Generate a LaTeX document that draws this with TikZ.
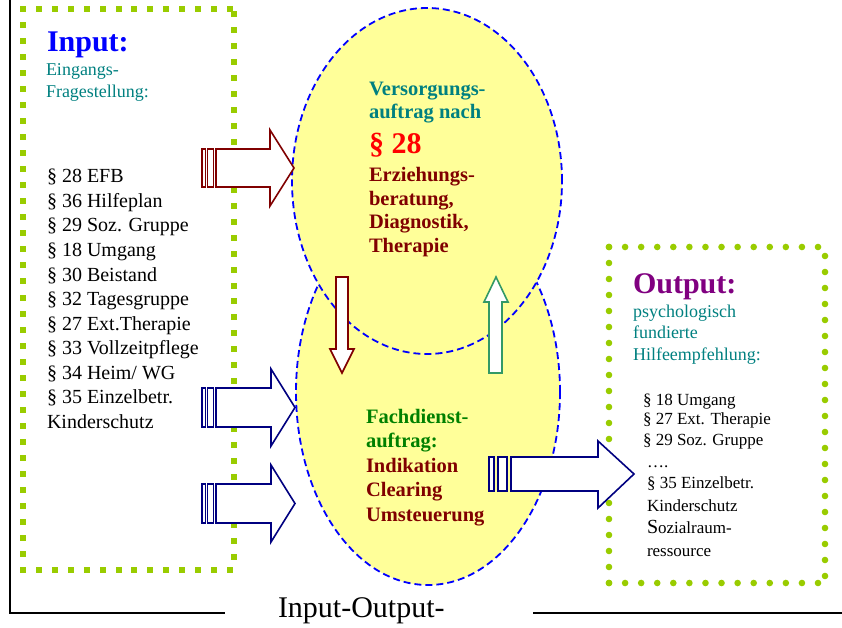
\documentclass[tikz,border=0pt]{standalone}
\usepackage{fontspec}
\setmainfont{Liberation Serif}
\usetikzlibrary{shapes.geometric}

\definecolor{dotgreen}{HTML}{99CC00}
\definecolor{tealtxt}{HTML}{008080}
\definecolor{darkred}{HTML}{800000}
\definecolor{navy}{HTML}{000080}
\definecolor{purpletxt}{HTML}{800080}
\definecolor{greentxt}{HTML}{008000}
\definecolor{upgreen}{HTML}{339966}
\definecolor{bubblefill}{HTML}{FFFF99}

\begin{document}
\begin{tikzpicture}[x=1bp,y=-1bp,
  lbl/.style={anchor=base west, inner sep=0pt, outer sep=0pt},
  fsz/.style={font=\fontsize{#1bp}{#1bp}\selectfont},
  bubble/.style={ellipse, draw=blue, fill=bubblefill, line width=1.8bp,
                 dash pattern=on 7bp off 4bp, inner sep=0pt},
  blockarrow/.style={draw=#1, fill=white, line width=1.6bp, line join=miter},
  stripe/.style={draw=#1, fill=white, line width=1.1bp},
  frame/.style={black, line width=2bp},
  sqdot/.pic={\fill[dotgreen] (-3,-3) rectangle (3,3);},
  rddot/.pic={\fill[dotgreen] (0,0) circle[radius=3.3bp];}
]
\useasboundingbox (0,0) rectangle (842,628);

% outer frame
\draw[frame] (10,0) -- (10,613) -- (225,613);
\draw[frame] (533,613) -- (842,613);

% input box: square-dotted border
\foreach \i in {0,...,13} {
  \pic at ({23+\i*(207/13)},9) {sqdot};
  \pic at ({23+\i*(207/13)},570) {sqdot};
}
\foreach \i in {0,...,35} \pic at (23,{9+\i*(561/35)}) {sqdot};
\foreach \i in {0,...,34} \pic at (234,{14+\i*(543/34)}) {sqdot};

% output box: round-dotted border
\foreach \i in {0,...,13} {
  \pic at ({609+\i*(209/13)},247) {rddot};
  \pic at ({609+\i*(209/13)},583) {rddot};
}
\foreach \i in {0,...,21} \pic at (609,{247+\i*16}) {rddot};
\foreach \i in {0,...,20} \pic at (825,{256+\i*16}) {rddot};

% the two overlapping bubbles
\node[bubble, minimum width=264bp, minimum height=386bp] (lower) at (428,392) {};
\node[bubble, minimum width=270bp, minimum height=346bp] (upper) at (427,181) {};

% input text
\node[lbl, text=blue, font=\bfseries\fontsize{30bp}{30bp}\selectfont] (intitle) at (47,52) {Input:};
\node[lbl, fsz=18, text=tealtxt] (insub1) at (46,76) {Eingangs-};
\node[lbl, fsz=18, text=tealtxt] (insub2) at (46,98) {Fragestellung:};
\foreach \t [count=\i from 0] in {{§ 28 EFB},{§ 36 Hilfeplan},{§ 29 Soz. Gruppe},
    {§ 18 Umgang},{§ 30 Beistand},{§ 32 Tagesgruppe},{§ 27 Ext.Therapie},
    {§ 33 Vollzeitpflege},{§ 34 Heim/ WG},{§ 35 Einzelbetr.},{Kinderschutz}}
  \node[lbl, fsz=20] (inlist\i) at (47,{183+\i*24.5}) {\t};

% upper bubble text
\begin{scope}[every node/.style={lbl, font=\bfseries\fontsize{20.5bp}{20.5bp}\selectfont}]
  \node[text=tealtxt] (up1) at (369,96) {Versorgungs-};
  \node[text=tealtxt] (up2) at (369,119) {auftrag nach};
  \node[text=red, font=\bfseries\fontsize{30bp}{30bp}\selectfont] (up3) at (369,154) {§ 28};
  \node[text=darkred] (up4) at (369,182) {Erziehungs-};
  \node[text=darkred] (up5) at (369,205.5) {beratung,};
  \node[text=darkred] (up6) at (369,229) {Diagnostik,};
  \node[text=darkred] (up7) at (369,252.5) {Therapie};
% lower bubble text
  \node[text=greentxt] (lo1) at (366,423) {Fachdienst-};
  \node[text=greentxt] (lo2) at (366,447.5) {auftrag:};
  \node[text=darkred] (lo3) at (366,472) {Indikation};
  \node[text=darkred] (lo4) at (366,496.5) {Clearing};
  \node[text=darkred] (lo5) at (366,521) {Umsteuerung};
\end{scope}

% output text
\node[lbl, text=purpletxt, font=\bfseries\fontsize{30bp}{30bp}\selectfont] (outtitle) at (633,293) {Output:};
\node[lbl, fsz=18, text=tealtxt] (outsub1) at (633,317) {psychologisch};
\node[lbl, fsz=18, text=tealtxt] (outsub2) at (633,338.5) {fundierte};
\node[lbl, fsz=18, text=tealtxt] (outsub3) at (633,360) {Hilfeempfehlung:};
\node[lbl, fsz=17] (outl1) at (643,405) {§ 18 Umgang};
\node[lbl, fsz=17] (outl2) at (643,424.5) {§ 27 Ext. Therapie};
\node[lbl, fsz=17] (outl3) at (643,445.5) {§ 29 Soz. Gruppe};
\node[lbl, fsz=17] (outl4) at (647,467) {….};
\node[lbl, fsz=17] (outl5) at (647,488) {§ 35 Einzelbetr.};
\node[lbl, fsz=17] (outl6) at (647,511) {Kinderschutz};
\node[lbl, fsz=17] (outl7) at (647,533) {{\fontsize{20bp}{20bp}\selectfont S}ozialraum-};
\node[lbl, fsz=17] (outl8) at (647,556) {ressource};

% title
\node[lbl, fsz=30] (title) at (278,617) {Input-Output-};

% block arrow: input -> upper bubble
\draw[stripe=darkred] (202,149) rectangle (205.5,187);
\draw[stripe=darkred] (207.5,149) rectangle (213.5,187);
\draw[blockarrow=darkred] (216,149) -- (270,149) -- (270,130) -- (294,168)
  -- (270,206) -- (270,187) -- (216,187) -- cycle;

% block arrows: input -> lower bubble
\foreach \yc in {407.5,503.5} {
  \draw[stripe=navy] (202,\yc-19.5) rectangle (205.5,\yc+19.5);
  \draw[stripe=navy] (207.5,\yc-19.5) rectangle (213.5,\yc+19.5);
  \draw[blockarrow=navy] (216,\yc-19.5) -- (271,\yc-19.5) -- (271,\yc-38.5)
    -- (295,\yc) -- (271,\yc+38.5) -- (271,\yc+19.5) -- (216,\yc+19.5) -- cycle;
}

% block arrow: lower bubble -> output
\draw[stripe=navy] (489,457) rectangle (494,491);
\draw[stripe=navy] (498,457) rectangle (507,491);
\draw[blockarrow=navy] (511,457) -- (598,457) -- (598,441) -- (634,474)
  -- (598,508) -- (598,491) -- (511,491) -- cycle;

% vertical arrows between the bubbles
\draw[blockarrow=darkred] (336,277) -- (348,277) -- (348,349) -- (354,349)
  -- (342,373) -- (330,349) -- (336,349) -- cycle;
\draw[blockarrow=upgreen] (489,373) -- (502,373) -- (502,302) -- (508,302)
  -- (496,277) -- (484,302) -- (489,302) -- cycle;
\end{tikzpicture}
\end{document}
